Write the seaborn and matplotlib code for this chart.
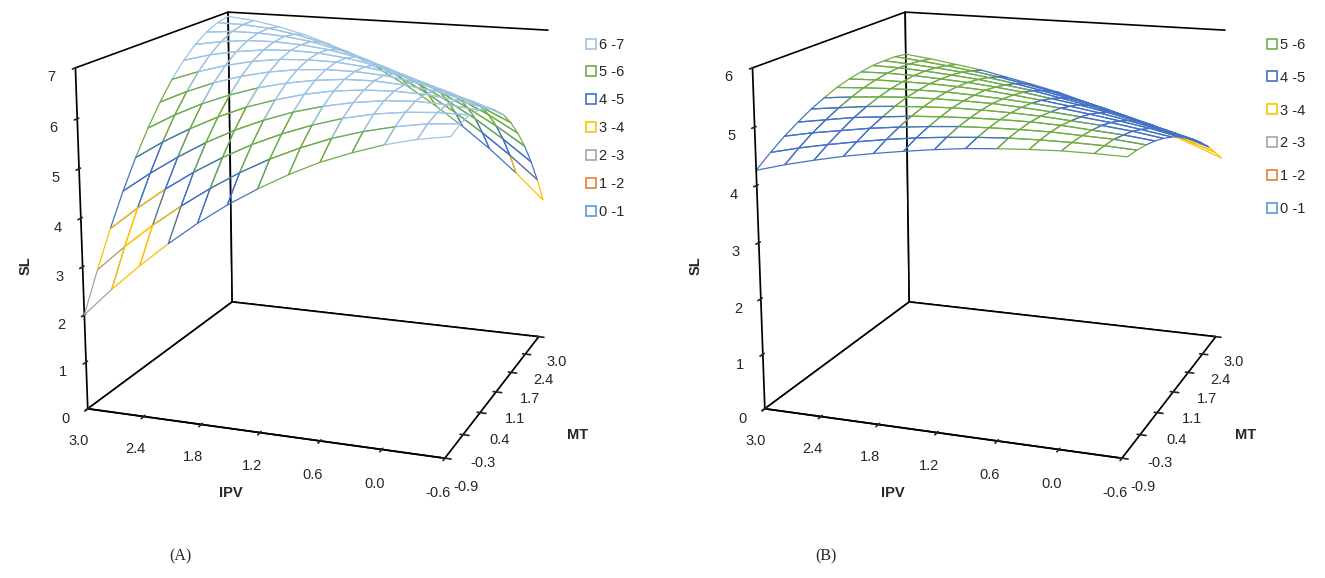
"""Response surfaces of SL against IPV and MT, two panels"""

import numpy as np
import matplotlib
matplotlib.use("Agg")
import matplotlib.pyplot as plt
from matplotlib.lines import Line2D
import seaborn as sns

sns.set_theme(style="white")
plt.rcParams["font.family"] = ["Liberation Sans", "DejaVu Sans"]

# grid (IPV along the front edge, MT along the right edge)
ipv = [3.0, 2.7, 2.4, 2.1, 1.8, 1.5, 1.2, 0.9, 0.6, 0.3, 0.0, -0.3, -0.6]
mt = [-0.9, -0.575, -0.25, 0.075, 0.4, 0.725, 1.05, 1.375, 1.7, 2.025, 2.35, 2.675, 3.0]

ipv_ticks = [3.0, 2.4, 1.8, 1.2, 0.6, 0.0, -0.6]
ipv_labels = ["3.0", "2.4", "1.8", "1.2", "0.6", "0.0", "-0.6"]
mt_ticks = [-0.9, -0.25, 0.4, 1.05, 1.7, 2.35, 3.0]
mt_labels = ["-0.9", "-0.3", "0.4", "1.1", "1.7", "2.4", "3.0"]

# SL values, one row per IPV value, columns follow mt
sl_a = [
    [2.00, 2.76, 3.46, 4.10, 4.67, 5.17, 5.61, 5.99, 6.30, 6.55, 6.73, 6.85, 6.90],
    [2.60, 3.31, 3.95, 4.53, 5.05, 5.50, 5.88, 6.20, 6.46, 6.65, 6.78, 6.84, 6.84],
    [3.15, 3.81, 4.40, 4.92, 5.38, 5.78, 6.11, 6.37, 6.57, 6.71, 6.78, 6.79, 6.73],
    [3.66, 4.26, 4.80, 5.27, 5.67, 6.01, 6.29, 6.50, 6.64, 6.72, 6.74, 6.69, 6.58],
    [4.13, 4.67, 5.15, 5.57, 5.92, 6.20, 6.42, 6.58, 6.67, 6.69, 6.66, 6.55, 6.39],
    [4.55, 5.04, 5.46, 5.82, 6.11, 6.34, 6.51, 6.61, 6.65, 6.62, 6.52, 6.37, 6.14],
    [4.92, 5.36, 5.72, 6.03, 6.27, 6.44, 6.55, 6.60, 6.58, 6.50, 6.35, 6.14, 5.86],
    [5.25, 5.63, 5.94, 6.19, 6.38, 6.50, 6.55, 6.54, 6.47, 6.33, 6.13, 5.86, 5.53],
    [5.54, 5.86, 6.12, 6.31, 6.44, 6.51, 6.51, 6.44, 6.31, 6.12, 5.86, 5.54, 5.15],
    [5.77, 6.04, 6.25, 6.39, 6.46, 6.47, 6.42, 6.30, 6.11, 5.87, 5.55, 5.17, 4.73],
    [5.97, 6.18, 6.33, 6.42, 6.44, 6.39, 6.28, 6.11, 5.87, 5.56, 5.20, 4.76, 4.27],
    [6.12, 6.28, 6.37, 6.40, 6.37, 6.27, 6.10, 5.87, 5.58, 5.22, 4.80, 4.31, 3.76],
    [6.22, 6.33, 6.37, 6.34, 6.25, 6.09, 5.88, 5.59, 5.24, 4.83, 4.35, 3.81, 3.20],
]

sl_b = [
    [4.26, 4.45, 4.62, 4.76, 4.89, 4.99, 5.08, 5.14, 5.18, 5.21, 5.21, 5.20, 5.16],
    [4.40, 4.57, 4.72, 4.84, 4.95, 5.04, 5.11, 5.16, 5.19, 5.20, 5.18, 5.15, 5.10],
    [4.52, 4.67, 4.80, 4.92, 5.01, 5.08, 5.13, 5.16, 5.18, 5.17, 5.14, 5.09, 5.02],
    [4.63, 4.76, 4.88, 4.97, 5.05, 5.11, 5.14, 5.16, 5.15, 5.13, 5.09, 5.02, 4.94],
    [4.72, 4.84, 4.94, 5.02, 5.08, 5.12, 5.14, 5.14, 5.12, 5.08, 5.02, 4.94, 4.83],
    [4.80, 4.91, 4.99, 5.05, 5.10, 5.12, 5.12, 5.11, 5.07, 5.01, 4.94, 4.84, 4.72],
    [4.87, 4.96, 5.03, 5.07, 5.10, 5.11, 5.09, 5.06, 5.01, 4.94, 4.84, 4.73, 4.60],
    [4.93, 5.00, 5.05, 5.08, 5.09, 5.08, 5.05, 5.00, 4.93, 4.84, 4.73, 4.60, 4.45],
    [4.97, 5.03, 5.06, 5.08, 5.07, 5.04, 5.00, 4.93, 4.85, 4.74, 4.62, 4.47, 4.30],
    [5.00, 5.04, 5.06, 5.06, 5.03, 4.99, 4.93, 4.85, 4.75, 4.62, 4.48, 4.32, 4.14],
    [5.02, 5.04, 5.04, 5.02, 4.99, 4.93, 4.85, 4.75, 4.63, 4.49, 4.34, 4.16, 3.96],
    [5.02, 5.03, 5.02, 4.98, 4.93, 4.85, 4.76, 4.64, 4.51, 4.35, 4.18, 3.98, 3.77],
    [5.01, 5.00, 4.97, 4.92, 4.85, 4.76, 4.65, 4.52, 4.37, 4.20, 4.01, 3.79, 3.56],
]

band_labels = ["0 -1", "1 -2", "2 -3", "3 -4", "4 -5", "5 -6", "6 -7"]
band_colors = ["#5B9BD5", "#ED7D31", "#A5A5A5", "#FFC000", "#4472C4", "#70AD47", "#9DC3E6"]


def surface_panel(fig, rect, sl, zmax):
    ax = fig.add_axes(rect, projection="3d")
    X, Y = np.meshgrid(ipv, mt)
    Z = np.array(sl).T

    surf = ax.plot_surface(X, Y, Z, rstride=1, cstride=1, shade=False,
                           linewidth=0.9, antialiased=True)
    # colour each cell by the band its mean value falls in
    cell = (Z[:-1, :-1] + Z[1:, :-1] + Z[:-1, 1:] + Z[1:, 1:]) / 4
    idx = np.clip(np.floor(cell).astype(int), 0, len(band_colors) - 1).ravel()
    surf.set_facecolor((1, 1, 1, 0))
    surf.set_edgecolor([band_colors[i] for i in idx])

    ax.set_xlim(3.0, -0.6)
    ax.set_ylim(-0.9, 3.0)
    ax.set_zlim(0, zmax)
    ax.set_xticks(ipv_ticks)
    ax.set_xticklabels(ipv_labels)
    ax.set_yticks(mt_ticks)
    ax.set_yticklabels(mt_labels)
    ax.set_zticks(range(zmax + 1))
    ax.tick_params(labelsize=10.5, pad=2)
    ax.tick_params(axis="z", pad=0)

    ax.grid(False)
    for axis in (ax.xaxis, ax.yaxis, ax.zaxis):
        axis.set_pane_color((1, 1, 1, 1))
        axis.pane.set_edgecolor("black")
        axis.pane.set_linewidth(1.2)
        axis.line.set_color("black")
        axis._axinfo["tick"]["color"] = "black"
    ax.zaxis.set_ticks_position("lower")

    ax.set_proj_type("persp", focal_length=0.7)
    ax.view_init(elev=15, azim=-70)
    ax.set_box_aspect((1, 1, 0.93), zoom=1.23)
    return ax


fig = plt.figure(figsize=(13.25, 5.78), dpi=100)

ax_a = surface_panel(fig, [0.006, 0.205, 0.47, 0.83], sl_a, 7)
ax_b = surface_panel(fig, [0.517, 0.205, 0.47, 0.83], sl_b, 6)

for x0, xi, xm in [(0.014, 0.174, 0.436), (0.52, 0.674, 0.94)]:
    fig.text(x0, 0.54, "SL", rotation=90, fontweight="bold", fontsize=10.5, va="center")
    fig.text(xi, 0.14, "IPV", fontweight="bold", fontsize=10.5, ha="center")
    fig.text(xm, 0.24, "MT", fontweight="bold", fontsize=10.5, ha="center")

fig.text(0.136, 0.03, "(A)", family="Liberation Serif", fontsize=11.5, ha="center")
fig.text(0.623, 0.03, "(B)", family="Liberation Serif", fontsize=11.5, ha="center")


def band_legend(nbands, anchor, spacing):
    handles = [Line2D([], [], linestyle="none", marker="s", markersize=7,
                      markerfacecolor="white", markeredgecolor=band_colors[i],
                      markeredgewidth=1.2, label=band_labels[i])
               for i in reversed(range(nbands))]
    fig.legend(handles=handles, loc="upper left", bbox_to_anchor=anchor,
               frameon=False, fontsize=10.5, handlelength=0.8,
               handletextpad=0.2, labelspacing=spacing, borderaxespad=0)


band_legend(7, (0.437, 0.945), 0.95)
band_legend(6, (0.951, 0.945), 1.3)

fig.savefig("out.png", dpi=100)
